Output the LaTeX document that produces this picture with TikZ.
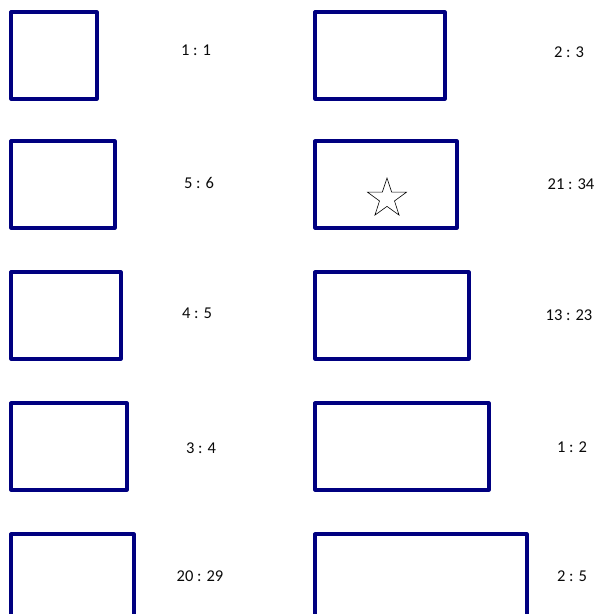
\documentclass[tikz,border=0pt]{standalone}
\usepackage{fontspec}
\setmainfont{Carlito}
\definecolor{navyline}{RGB}{0,0,128}
\definecolor{labeltext}{RGB}{10,10,10}
\begin{document}
\begin{tikzpicture}[x=1pt,y=-1pt,
  framebox/.style={draw=navyline,line width=3.2pt,line join=round,fill=white},
  starline/.style={draw=black,line width=0.6pt,line join=miter,fill=white},
  ratiolabel/.style={font=\fontsize{16.5}{19}\selectfont,text=labeltext,inner sep=0pt}]
\useasboundingbox[fill=white] (0,0) rectangle (598,614);
% left column
\draw[framebox] (11,12) rectangle (97,99);
\draw[framebox] (11,141) rectangle (115,228);
\draw[framebox] (11,272) rectangle (121,359);
\draw[framebox] (11,403) rectangle (127,490);
\draw[framebox] (11,534) rectangle (134,621);
% right column
\draw[framebox] (315,12) rectangle (445,99);
\draw[framebox] (315,141) rectangle (457,228);
\draw[framebox] (315,272) rectangle (469,359);
\draw[framebox] (315,403) rectangle (489,490);
\draw[framebox] (315,534) rectangle (527,621);
% star (y axis points down, so angles are mirrored: top point at -90)
\begin{scope}[shift={(387,198.5)}]
\draw[starline] (-90:20.5)
  -- (-54:7.9) -- (-18:20.5) -- (18:7.9) -- (54:20.5) -- (90:7.9)
  -- (126:20.5) -- (162:7.9) -- (198:20.5) -- (234:7.9) -- cycle;
\end{scope}
% labels
\node[ratiolabel] (l1) at (196,50) {1 : 1};
\node[ratiolabel] (l2) at (199,183) {5 : 6};
\node[ratiolabel] (l3) at (197,313) {4 : 5};
\node[ratiolabel] (l4) at (201,448) {3 : 4};
\node[ratiolabel] (l5) at (200,576) {20 : 29};
\node[ratiolabel] (r1) at (569,52) {2 : 3};
\node[ratiolabel] (r2) at (571,184) {21 : 34};
\node[ratiolabel] (r3) at (569,315) {13 : 23};
\node[ratiolabel] (r4) at (572,447) {1 : 2};
\node[ratiolabel] (r5) at (572,576) {2 : 5};
\end{tikzpicture}
\end{document}
